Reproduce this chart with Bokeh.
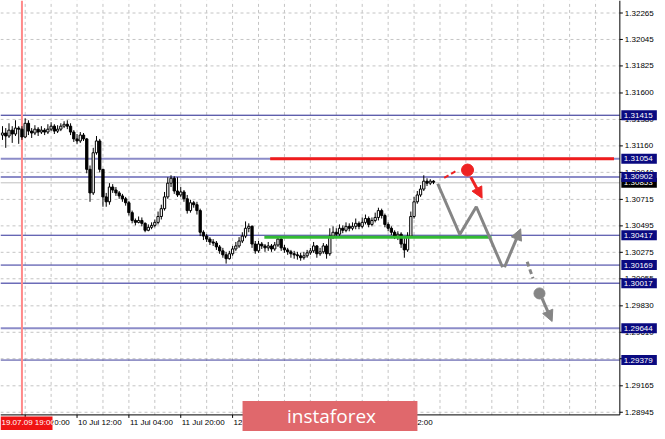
import numpy as np
from bokeh.plotting import figure
from bokeh.models import Range1d, Arrow, NormalHead
from bokeh.core.properties import value
from bokeh.embed import file_html
from bokeh.resources import INLINE

FONT = "Liberation Sans"

# ---------------- data (H1 bars, index 0 = 09 Jul 20:00) ----------------
bar_first_index = -7
first_open = 1.31250
closes = [
    1.31267, 1.31242, 1.31291, 1.31259, 1.31308, 1.31299, 1.31234, 1.31348, 1.31283, 1.31267,
    1.31299, 1.31275, 1.31291, 1.31275, 1.31299, 1.31324, 1.31283, 1.31299, 1.31324, 1.31340,
    1.31324, 1.31275, 1.31218, 1.31201, 1.31250, 1.31218, 1.30965, 1.30769, 1.31103, 1.31201,
    1.30965, 1.30736, 1.30695, 1.30818, 1.30793, 1.30769, 1.30744, 1.30720, 1.30687, 1.30605,
    1.30540, 1.30524, 1.30540, 1.30516, 1.30458, 1.30483, 1.30499, 1.30524, 1.30573, 1.30638,
    1.30736, 1.30850, 1.30891, 1.30785, 1.30752, 1.30777, 1.30720, 1.30622, 1.30687, 1.30671,
    1.30622, 1.30442, 1.30410, 1.30385, 1.30361, 1.30352, 1.30320, 1.30287, 1.30254, 1.30222,
    1.30263, 1.30303, 1.30328, 1.30369, 1.30410, 1.30475, 1.30491, 1.30344, 1.30287, 1.30344,
    1.30328, 1.30312, 1.30328, 1.30303, 1.30336, 1.30385, 1.30312, 1.30295, 1.30279, 1.30263,
    1.30254, 1.30246, 1.30230, 1.30246, 1.30271, 1.30287, 1.30328, 1.30263, 1.30279, 1.30328,
    1.30263, 1.30410, 1.30442, 1.30426, 1.30475, 1.30458, 1.30491, 1.30475, 1.30491, 1.30516,
    1.30491, 1.30524, 1.30556, 1.30507, 1.30540, 1.30565, 1.30622, 1.30581, 1.30507, 1.30475,
    1.30442, 1.30410, 1.30426, 1.30344, 1.30295, 1.30410, 1.30573, 1.30695, 1.30752, 1.30801,
    1.30867, 1.30850, 1.30867, 1.30858,
]
highs = [
    1.31324, 1.31308, 1.31348, 1.31324, 1.31373, 1.31324, 1.31324, 1.31389, 1.31373, 1.31308,
    1.31332, 1.31316, 1.31324, 1.31308, 1.31340, 1.31357, 1.31340, 1.31332, 1.31348, 1.31365,
    1.31373, 1.31348, 1.31291, 1.31259, 1.31275, 1.31267, 1.31226, 1.30997, 1.31144, 1.31242,
    1.31218, 1.30965, 1.30769, 1.30850, 1.30842, 1.30818, 1.30785, 1.30761, 1.30736, 1.30703,
    1.30622, 1.30556, 1.30573, 1.30565, 1.30524, 1.30507, 1.30524, 1.30548, 1.30614, 1.30671,
    1.30777, 1.30899, 1.30916, 1.30907, 1.30899, 1.30818, 1.30793, 1.30752, 1.30712, 1.30703,
    1.30695, 1.30638, 1.30458, 1.30426, 1.30401, 1.30385, 1.30369, 1.30336, 1.30312, 1.30279,
    1.30287, 1.30328, 1.30361, 1.30401, 1.30442, 1.30532, 1.30516, 1.30499, 1.30369, 1.30369,
    1.30361, 1.30344, 1.30361, 1.30344, 1.30361, 1.30410, 1.30393, 1.30336, 1.30312, 1.30295,
    1.30287, 1.30279, 1.30271, 1.30279, 1.30295, 1.30312, 1.30361, 1.30336, 1.30312, 1.30352,
    1.30344, 1.30475, 1.30491, 1.30475, 1.30507, 1.30499, 1.30524, 1.30516, 1.30524, 1.30556,
    1.30532, 1.30565, 1.30589, 1.30573, 1.30565, 1.30605, 1.30646, 1.30638, 1.30597, 1.30524,
    1.30491, 1.30458, 1.30450, 1.30442, 1.30393, 1.30442, 1.30614, 1.30736, 1.30785, 1.30834,
    1.30916, 1.30891, 1.30883, 1.30875,
]
lows = [
    1.31210, 1.31144, 1.31226, 1.31185, 1.31242, 1.31177, 1.31210, 1.31226, 1.31250, 1.31226,
    1.31250, 1.31242, 1.31259, 1.31250, 1.31259, 1.31283, 1.31259, 1.31267, 1.31283, 1.31308,
    1.31299, 1.31250, 1.31193, 1.31177, 1.31185, 1.31201, 1.30932, 1.30695, 1.30752, 1.31087,
    1.30940, 1.30654, 1.30654, 1.30671, 1.30769, 1.30744, 1.30720, 1.30695, 1.30663, 1.30581,
    1.30516, 1.30499, 1.30516, 1.30491, 1.30442, 1.30450, 1.30467, 1.30483, 1.30507, 1.30548,
    1.30622, 1.30720, 1.30818, 1.30761, 1.30736, 1.30736, 1.30695, 1.30597, 1.30605, 1.30646,
    1.30589, 1.30410, 1.30377, 1.30361, 1.30336, 1.30328, 1.30295, 1.30263, 1.30230, 1.30181,
    1.30214, 1.30246, 1.30287, 1.30312, 1.30352, 1.30393, 1.30442, 1.30312, 1.30263, 1.30271,
    1.30303, 1.30279, 1.30287, 1.30279, 1.30287, 1.30320, 1.30287, 1.30271, 1.30254, 1.30230,
    1.30222, 1.30214, 1.30205, 1.30214, 1.30230, 1.30254, 1.30271, 1.30230, 1.30246, 1.30263,
    1.30222, 1.30246, 1.30385, 1.30393, 1.30410, 1.30434, 1.30442, 1.30450, 1.30458, 1.30467,
    1.30467, 1.30475, 1.30507, 1.30483, 1.30491, 1.30524, 1.30540, 1.30556, 1.30483, 1.30450,
    1.30418, 1.30385, 1.30377, 1.30312, 1.30230, 1.30279, 1.30393, 1.30556, 1.30679, 1.30736,
    1.30785, 1.30826, 1.30834, 1.30842,
]

time_tick_index = [0, 16, 32, 48, 64, 80, 96, 112]
time_tick_labels = ["09 Jul 20:00", "10 Jul 12:00", "11 Jul 04:00", "11 Jul 20:00",
                    "12 Jul 12:00", "15 Jul 04:00", "15 Jul 20:00", "16 Jul 12:00"]
price_ticks = [1.28945, 1.29165, 1.29390, 1.29610, 1.29830, 1.30055, 1.30275, 1.30495,
               1.30715, 1.30940, 1.31160, 1.31380, 1.31600, 1.31825, 1.32045, 1.32265]
price_tick_labels = ["%.5f" % t for t in price_ticks]

levels = [1.31415, 1.31054, 1.30902, 1.30417, 1.30169, 1.30017, 1.29644, 1.29379]
level_labels = ["1.31415", "1.31054", "1.30902", "1.30417", "1.30169", "1.30017", "1.29644", "1.29379"]
level_colors = ["#20208c", "#8c8cc8", "#8c8cc8", "#30309a", "#30309a", "#6c6cb8", "#8c8cc8", "#40409c"]
level_widths = [1, 2, 2, 1, 1, 1.5, 2, 1]
bid_price = 1.30853
bid_label = "1.30853"

marker_index = -1
marker_label = "19.07.09 19:00"

resistance_x = [75.6, 181.7]
resistance_y = [1.31054, 1.31054]
support_x = [73.8, 143.9]
support_y = [1.30400, 1.30400]

gray_path_x = [127.3, 134.1, 139.2, 147.3]
gray_path_y = [1.30845, 1.30423, 1.30654, 1.30151]
gray_up_arrow = (147.9, 1.30151, 152.9, 1.30470)
gray_dash_x = [154.9, 156.7]
gray_dash_y = [1.30196, 1.30057]
gray_dot = (158.7, 1.29933)
gray_down_arrow = (159.5, 1.29892, 162.6, 1.29700)

red_dash_x = [129.3, 133.1]
red_dash_y = [1.30894, 1.30954]
red_dot = (136.5, 1.30959)
red_down_arrow = (137.5, 1.30900, 141.0, 1.30725)

watermark_text = "instaforex"

# ---------------- layout (whole canvas mapped in data space) ----------------
W, H = 657, 431
X0, X1 = -7.62, 195.12          # bar index at left / right canvas edge
Y0, Y1 = 1.28785, 1.32369       # price at bottom / top canvas edge
AX_X = 183.5                    # price scale line
AX_Y = 1.28923                  # time scale line
DX = (X1 - X0) / W              # one pixel in data units
DY = (Y1 - Y0) / H

p = figure(width=W, height=H, x_range=Range1d(X0, X1), y_range=Range1d(Y0, Y1),
           output_backend="svg", toolbar_location=None,
           x_axis_location=None, y_axis_location=None, min_border=0)
p.min_border_left = p.min_border_right = p.min_border_top = p.min_border_bottom = 0
p.outline_line_color = None
p.grid.visible = False
p.background_fill_color = "white"
p.border_fill_color = "white"

TXT = dict(text_font=value(FONT), text_font_size="8px")

# grid
vgrid = list(range(0, int(AX_X) + 1, 8))
p.segment(vgrid, [AX_Y] * len(vgrid), vgrid, [Y1] * len(vgrid),
          line_color="#c4c4c4", line_width=1, line_dash="3 3")
p.segment([X0] * len(price_ticks), price_ticks, [AX_X] * len(price_ticks), price_ticks,
          line_color="#c4c4c4", line_width=1, line_dash="3 3")

# bid line and levels
p.segment([X0], [bid_price], [AX_X], [bid_price], line_color="#c0c0c0", line_width=1)
for lv, col, lw in zip(levels, level_colors, level_widths):
    p.segment([X0], [lv], [AX_X], [lv], line_color=col, line_width=lw)

# marker vertical line
p.segment([marker_index], [AX_Y], [marker_index], [Y1], line_color="#ff8a8a", line_width=2)

# candles
idx = np.arange(bar_first_index, bar_first_index + len(closes))
c = np.array(closes)
o = np.array([first_open] + closes[:-1])
h = np.array(highs)
l = np.array(lows)
up = c >= o
p.segment(idx, h, idx, l, color="black", line_width=1)
p.vbar(x=idx[up], top=c[up], bottom=o[up], width=0.7, fill_color="white", line_color="black", line_width=1)
p.vbar(x=idx[~up], top=o[~up], bottom=c[~up], width=0.7, fill_color="black", line_color="black", line_width=1)

# resistance / support
p.line(resistance_x, resistance_y, line_color="#f01c1c", line_width=3)
p.line(support_x, support_y, line_color="#33bb33", line_width=3)

# forecast path (gray)
GRAY = "#858585"
p.line(gray_path_x, gray_path_y, line_color=GRAY, line_width=3)
p.add_layout(Arrow(end=NormalHead(size=11, fill_color=GRAY, line_color=GRAY),
                   x_start=gray_up_arrow[0], y_start=gray_up_arrow[1],
                   x_end=gray_up_arrow[2], y_end=gray_up_arrow[3],
                   line_color=GRAY, line_width=3))
p.line(gray_dash_x, gray_dash_y, line_color=GRAY, line_width=3, line_dash="5 3")
p.scatter([gray_dot[0]], [gray_dot[1]], size=11, color=GRAY)
p.add_layout(Arrow(end=NormalHead(size=11, fill_color=GRAY, line_color=GRAY),
                   x_start=gray_down_arrow[0], y_start=gray_down_arrow[1],
                   x_end=gray_down_arrow[2], y_end=gray_down_arrow[3],
                   line_color=GRAY, line_width=3))

# red alternative
RED = "#ee2222"
p.line(red_dash_x, red_dash_y, line_color=RED, line_width=2, line_dash="5 3")
p.scatter([red_dot[0]], [red_dot[1]], size=12, color=RED)
p.add_layout(Arrow(end=NormalHead(size=11, fill_color=RED, line_color=RED),
                   x_start=red_down_arrow[0], y_start=red_down_arrow[1],
                   x_end=red_down_arrow[2], y_end=red_down_arrow[3],
                   line_color=RED, line_width=3))

# ---- price scale (right) ----
p.quad(left=[AX_X], right=[X1], bottom=[Y0], top=[Y1], fill_color="white", line_color=None)
p.quad(left=[X0], right=[X1], bottom=[Y0], top=[AX_Y], fill_color="white", line_color=None)
p.segment([AX_X], [AX_Y], [AX_X], [Y1], line_color="black", line_width=1)
p.segment([X0], [AX_Y], [AX_X], [AX_Y], line_color="black", line_width=1)
p.segment([AX_X] * len(price_ticks), price_ticks, [AX_X + 3 * DX] * len(price_ticks), price_ticks,
          line_color="black", line_width=1)
p.text(x=[AX_X + 5 * DX] * len(price_ticks), y=price_ticks, text=price_tick_labels,
       text_baseline="middle", text_align="left", text_color="black", **TXT)

# level boxes
BOX_L, BOX_R = AX_X + 1.5 * DX, AX_X + 37 * DX
p.quad(left=[BOX_L], right=[BOX_R], bottom=[bid_price - 5 * DY], top=[bid_price + 5 * DY],
       fill_color="black", line_color=None)
p.text(x=[AX_X + 4 * DX], y=[bid_price], text=[bid_label], text_baseline="middle",
       text_align="left", text_color="white", **TXT)
lv_arr = np.array(levels)
p.quad(left=[BOX_L] * len(levels), right=[BOX_R] * len(levels), bottom=lv_arr - 5 * DY, top=lv_arr + 5 * DY,
       fill_color="#0a0a80", line_color=None)
p.text(x=[AX_X + 4 * DX] * len(levels), y=levels, text=level_labels, text_baseline="middle",
       text_align="left", text_color="white", **TXT)

# ---- time scale (bottom) ----
p.segment(time_tick_index, [AX_Y] * len(time_tick_index), time_tick_index,
          [AX_Y - 3 * DY] * len(time_tick_index), line_color="black", line_width=1)
p.text(x=[t + 1 * DX for t in time_tick_index], y=[AX_Y - 8 * DY] * len(time_tick_index),
       text=time_tick_labels, text_baseline="middle", text_align="left", text_color="black", **TXT)

# marker date label
p.quad(left=[X0], right=[X0 + 52 * DX], bottom=[AX_Y - 15 * DY], top=[AX_Y - 1.5 * DY],
       fill_color="#f01414", line_color=None)
p.text(x=[X0 + 1 * DX], y=[AX_Y - 8 * DY], text=[marker_label], text_baseline="middle",
       text_align="left", text_color="white", **TXT)

# watermark
p.quad(left=[67.07], right=[121.04], bottom=[Y0], top=[AX_Y + 14 * DY],
       fill_color="#e0686c", line_color=None)
p.text(x=[80.8], y=[AX_Y - 1 * DY], text=[watermark_text], text_baseline="middle", text_align="left",
       text_color="white", text_font=value("Open Sans"), text_font_size="19px")

open("out.html", "w").write(file_html(p, INLINE))
